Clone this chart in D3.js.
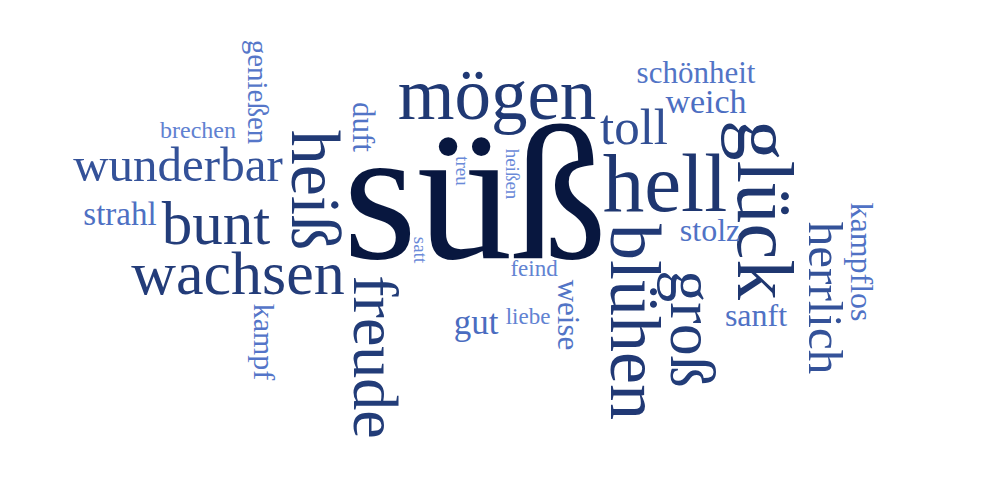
<!DOCTYPE html>
<html><head><meta charset="utf-8">
<script src="https://cdn.jsdelivr.net/npm/d3@7"></script>
<style>body{margin:0;background:#fff}</style></head>
<body><svg id="c" width="1000" height="500"></svg>
<script>
const words = ["süß","mögen","hell","toll","weich","schönheit","glück","herrlich","kampflos","sanft","stolz","groß","blühen","weise","feind","liebe","gut","heißen","treu","satt","duft","heiß","freude","wachsen","bunt","wunderbar","strahl","brechen","genießen","kampf"];
const weights = [190,73,83,51,34,31,81,49,32,32,32,64,72,31,23,23,35,19,19,19,31,70,64,62,61,49,33,24,29,30];
const rotations = [0,0,0,0,0,0,90,90,90,0,0,90,90,90,0,0,0,90,90,90,90,90,90,0,0,0,0,0,90,90];
// layout positions (word-cloud placement)
const layoutX = [475,497,665,634,706,696,765,825,862,756,710,692,635,568,534,528,476,512,462,420,363,315,375,238,216,178,120,198,258,264];
const layoutY = [194,94,183,127,101,72,210,298,262,315,230,329,322,315,268,316,322,174,171,250,127,190,357,273,223,164,214,130,92,342];

const svg = d3.select("#c");
const color = d3.scaleLinear().domain([19,35,60,190]).range(["#6a8ad8","#4a6cc0","#233d7a","#08173f"]).clamp(true);
svg.selectAll("text").data(words).join("text")
  .attr("transform",(d,i)=>`translate(${layoutX[i]},${layoutY[i]}) rotate(${rotations[i]})`)
  .attr("text-anchor","middle").attr("dominant-baseline","central")
  .attr("font-family","'Liberation Serif','Times New Roman',serif")
  .attr("font-size",(d,i)=>weights[i])
  .attr("fill",(d,i)=>color(weights[i]))
  .text(d=>d);
</script></body></html>
